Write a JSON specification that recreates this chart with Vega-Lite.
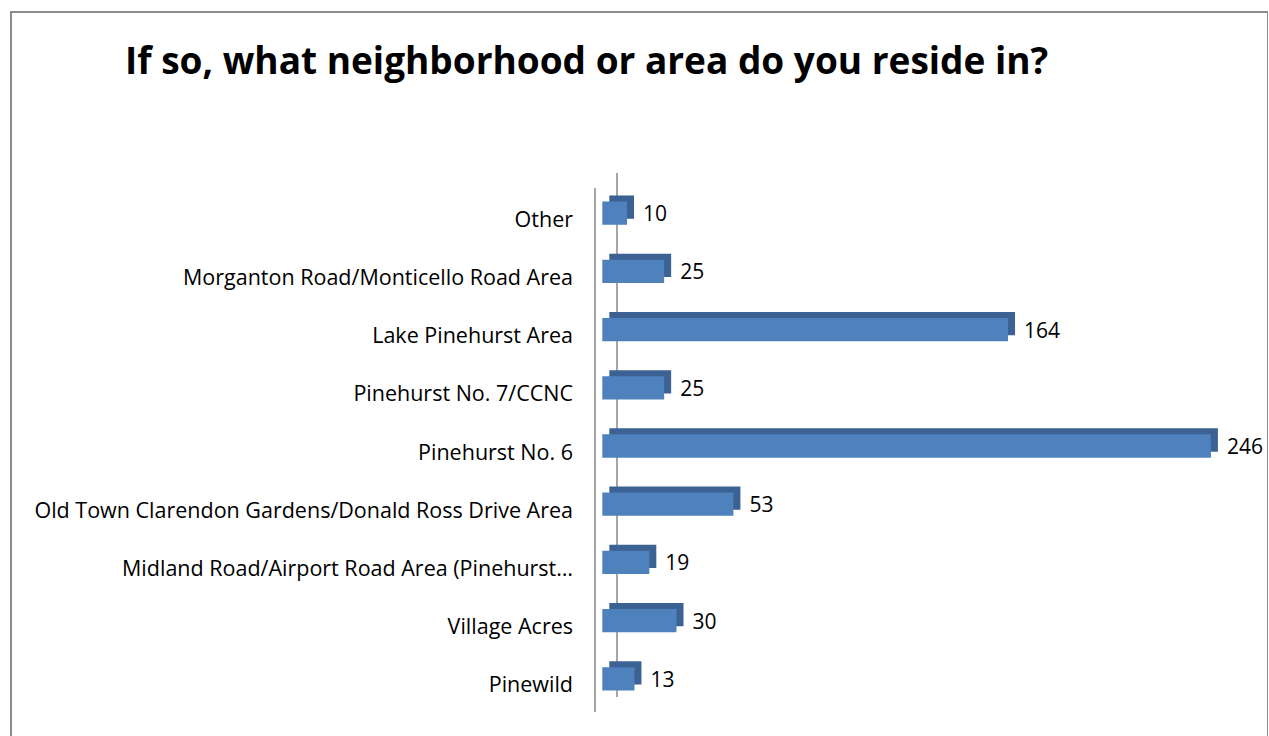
{
  "$schema": "https://vega.github.io/schema/vega-lite/v6.json",
  "autosize": {"type": "none"},
  "width": 1257,
  "height": 740,
  "padding": {"left": 11, "top": 12, "right": 0, "bottom": 0},
  "background": "white",
  "config": {
    "view": {"stroke": "#8c8c8c", "strokeWidth": 2},
    "font": "Open Sans"
  },
  "title": {
    "text": "If so, what neighborhood or area do you reside in?",
    "anchor": "start",
    "frame": "group",
    "orient": "top",
    "dx": 114,
    "dy": 107,
    "baseline": "bottom",
    "font": "Open Sans",
    "fontSize": 37,
    "fontWeight": "bold",
    "color": "#000000",
    "offset": 0
  },
  "data": {
    "values": [
      {"area": "Other", "count": 10},
      {"area": "Morganton Road/Monticello Road Area", "count": 25},
      {"area": "Lake Pinehurst Area", "count": 164},
      {"area": "Pinehurst No. 7/CCNC", "count": 25},
      {"area": "Pinehurst No. 6", "count": 246},
      {"area": "Old Town Clarendon Gardens/Donald Ross Drive Area", "count": 53},
      {"area": "Midland Road/Airport Road Area (Pinehurst…", "count": 19},
      {"area": "Village Acres", "count": 30},
      {"area": "Pinewild", "count": 13}
    ]
  },
  "resolve": {"axis": {"y": "independent"}},
  "layer": [
    {
      "mark": {"type": "bar", "color": "#3b6292", "xOffset": 7, "x2Offset": 7, "yOffset": -6, "y2Offset": -6},
      "encoding": {
        "y": {
          "field": "area", "type": "nominal", "sort": null,
          "scale": {"range": [172, 696], "paddingInner": 0.6, "paddingOuter": 0.3},
          "axis": {
            "title": null, "orient": "left", "offset": -580, "translate": 4,
            "domain": true, "domainColor": "#a6a6a6", "domainWidth": 2,
            "ticks": false, "labelPadding": 22, "labelLimit": 700,
            "labelFont": "Open Sans", "labelFontSize": 21.5, "labelColor": "#000000",
            "labelOffset": 4
          }
        },
        "x": {
          "field": "count", "type": "quantitative",
          "scale": {"domain": [0, 250], "range": [591.3, 1209.8], "nice": false},
          "axis": null
        }
      }
    },
    {
      "mark": {"type": "bar", "color": "#4f81bd"},
      "encoding": {
        "y": {
          "field": "area", "type": "nominal", "sort": null,
          "axis": {
            "title": null, "orient": "right", "offset": -640, "translate": -11,
            "domain": true, "domainColor": "#a6a6a6", "domainWidth": 2,
            "ticks": false, "labels": false
          }
        },
        "x": {"field": "count", "type": "quantitative", "axis": null}
      }
    },
    {
      "mark": {"type": "text", "align": "left", "baseline": "middle", "dx": 16, "dy": 2, "font": "Open Sans", "fontSize": 21, "color": "#000000"},
      "encoding": {
        "y": {"field": "area", "type": "nominal", "sort": null, "axis": null},
        "x": {"field": "count", "type": "quantitative", "axis": null},
        "text": {"field": "count", "type": "quantitative"}
      }
    }
  ]
}
